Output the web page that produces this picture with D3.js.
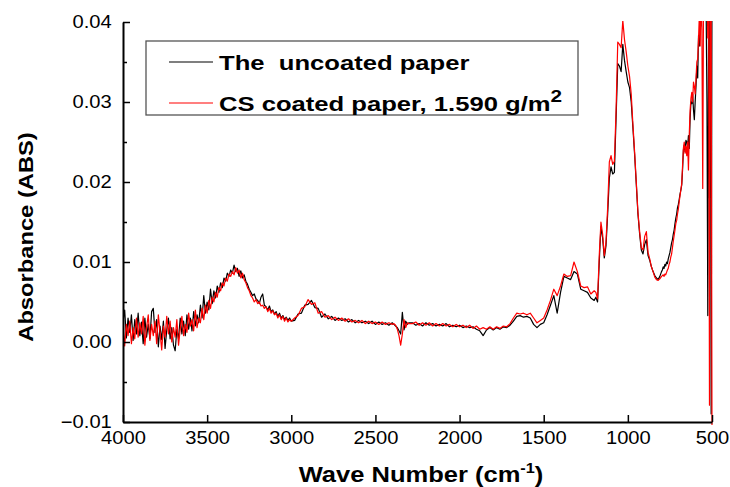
<!DOCTYPE html>
<html>
<head>
<meta charset="utf-8">
<script src="https://cdn.jsdelivr.net/npm/d3@7"></script>
<style>
body { margin: 0; background: #fff; }
svg { display: block; font-family: "Liberation Sans", Arial, sans-serif; }
</style>
</head>
<body>
<svg id="chart" width="730" height="487"></svg>
<script>
// wavenumber grid (cm-1), finer where the spectrum is busy
var wn = [].concat(
	d3.range(4000, 2999, -10),
	d3.range(2980, 2399, -20),
	d3.range(2390, 2299, -10),
	d3.range(2280, 1199, -20),
	d3.range(1190, 799, -10),
	d3.range(795, 499, -5)
);

// absorbance, the uncoated paper (black)
var uncoated = [
	// 4000 - 3000
	0.0025,0.0040,0.0005,0.0030,0.0012,0.0034,0.0002,0.0028,0.0010,0.0036,
	0.0008,0.0025,-0.0002,0.0030,0.0006,0.0022,0.0004,0.0038,0.0042,0.0012,
	0.0028,-0.0006,0.0020,0.0003,0.0026,-0.0008,0.0015,0.0030,0.0004,0.0018,
	-0.0004,-0.0011,0.0016,0.0004,0.0030,0.0010,0.0026,0.0008,0.0034,0.0016,
	0.0030,0.0014,0.0038,0.0020,0.0034,0.0024,0.0046,0.0030,0.0058,0.0036,
	0.0050,0.0040,0.0066,0.0048,0.0064,0.0055,0.0070,0.0062,0.0074,0.0068,
	0.0080,0.0076,0.0086,0.0082,0.0090,0.0086,0.0096,0.0088,0.0092,0.0082,
	0.0089,0.0080,0.0084,0.0076,0.0072,0.0066,0.0062,0.0058,0.0060,0.0054,
	0.0052,0.0048,0.0056,0.0060,0.0046,0.0044,0.0040,0.0045,0.0038,0.0040,
	0.0035,0.0038,0.0032,0.0036,0.0030,0.0033,0.0028,0.0031,0.0027,0.0030,
	0.0026,
	// 2980 - 2400
	0.0027,0.0035,0.0036,0.0046,0.0047,0.0052,0.0043,0.0042,0.0031,0.0035,
	0.0029,0.0032,0.0027,0.0030,0.0027,0.0029,0.0025,0.0028,0.0024,0.0027,
	0.0024,0.0026,0.0023,0.0026,0.0022,0.0025,0.0022,0.0024,0.0021,0.0024,
	// 2390 - 2300
	0.0022,0.0020,0.0018,0.0014,0.0010,0.0037,0.0015,0.0026,0.0022,0.0024,
	// 2280 - 1200
	0.0024,0.0021,0.0023,0.0020,0.0024,0.0021,0.0023,0.0020,0.0022,0.0020,
	0.0023,0.0019,0.0021,0.0019,0.0021,0.0018,0.0020,0.0018,0.0019,0.0016,
	0.0014,0.0008,0.0015,0.0018,0.0015,0.0018,0.0016,0.0019,0.0018,0.0021,
	0.0026,0.0032,0.0033,0.0031,0.0032,0.0030,0.0022,0.0018,0.0022,0.0024,
	0.0034,0.0046,0.0058,0.0036,0.0062,0.0082,0.0080,0.0078,0.0088,0.0085,
	0.0066,0.0064,0.0062,0.0055,0.0052,
	// 1190 - 800
	0.0056,0.0050,0.0100,0.0144,0.0130,0.0105,0.0120,0.0160,0.0205,0.0219,
	0.0210,0.0212,0.0280,0.0348,0.0345,0.0338,0.0372,0.0352,0.0338,0.0325,
	0.0318,0.0300,0.0268,0.0235,0.0198,0.0160,0.0135,0.0115,0.0110,0.0122,
	0.0128,0.0108,0.0102,0.0094,0.0088,0.0083,0.0080,0.0078,0.0082,0.0088,
	// 795 - 500
	0.0090,0.0094,0.0092,0.0097,0.0095,0.0100,0.0098,0.0104,0.0108,0.0112,
	0.0118,0.0124,0.0128,0.0135,0.0140,0.0148,0.0155,0.0160,0.0168,0.0172,
	0.0178,0.0185,0.0190,0.0196,0.0215,0.0240,0.0246,0.0238,0.0252,0.0250,
	0.0244,0.0258,0.0242,0.0280,0.0300,0.0298,0.0310,0.0290,0.0278,0.0300,
	0.0320,0.0345,0.0330,0.0383,0.0370,0.0420,0.0395,0.0440,0.0410,0.0450,
	0.0430,0.0460,0.0420,0.0300,0.0033,0.0450,0.0180,0.0460,-0.0090,0.0450
];

// absorbance, CS coated paper 1.590 g/m2 (red)
var coated = [
	// 4000 - 3000
	0.0020,-0.0005,0.0022,0.0008,0.0026,-0.0002,0.0018,0.0004,0.0030,0.0006,
	0.0024,0.0010,0.0032,-0.0004,0.0018,0.0034,0.0002,0.0022,0.0008,0.0026,
	-0.0002,0.0034,0.0012,-0.0010,0.0020,0.0006,0.0032,0.0010,0.0026,0.0000,
	0.0018,0.0006,0.0028,-0.0004,0.0016,0.0032,0.0008,0.0022,0.0012,0.0036,
	0.0020,0.0028,0.0014,0.0040,0.0018,0.0030,0.0024,0.0042,0.0028,0.0046,
	0.0036,0.0052,0.0042,0.0056,0.0050,0.0062,0.0056,0.0068,0.0064,0.0074,
	0.0070,0.0080,0.0076,0.0085,0.0082,0.0088,0.0084,0.0093,0.0086,0.0090,
	0.0080,0.0086,0.0078,0.0074,0.0068,0.0064,0.0058,0.0055,0.0050,0.0053,
	0.0048,0.0050,0.0045,0.0046,0.0042,0.0044,0.0038,0.0042,0.0036,0.0039,
	0.0034,0.0036,0.0030,0.0034,0.0028,0.0032,0.0026,0.0030,0.0025,0.0028,
	0.0026,
	// 2980 - 2400
	0.0030,0.0033,0.0042,0.0044,0.0053,0.0047,0.0049,0.0036,0.0038,0.0031,
	0.0033,0.0028,0.0031,0.0027,0.0030,0.0026,0.0029,0.0025,0.0027,0.0024,
	0.0027,0.0023,0.0026,0.0023,0.0025,0.0022,0.0025,0.0022,0.0024,0.0022,
	// 2390 - 2300
	0.0023,0.0021,0.0016,0.0008,-0.0004,0.0010,0.0028,0.0018,0.0024,0.0023,
	// 2280 - 1200
	0.0023,0.0025,0.0021,0.0024,0.0021,0.0024,0.0020,0.0023,0.0020,0.0023,
	0.0020,0.0022,0.0019,0.0022,0.0019,0.0021,0.0018,0.0021,0.0017,0.0020,
	0.0016,0.0018,0.0016,0.0019,0.0016,0.0019,0.0017,0.0020,0.0019,0.0023,
	0.0030,0.0036,0.0035,0.0036,0.0034,0.0036,0.0030,0.0024,0.0027,0.0030,
	0.0040,0.0052,0.0066,0.0058,0.0070,0.0085,0.0082,0.0083,0.0100,0.0088,
	0.0070,0.0068,0.0069,0.0060,0.0064,
	// 1190 - 800
	0.0062,0.0054,0.0108,0.0150,0.0135,0.0108,0.0125,0.0168,0.0225,0.0233,
	0.0222,0.0226,0.0290,0.0375,0.0372,0.0368,0.0402,0.0378,0.0363,0.0345,
	0.0332,0.0310,0.0272,0.0238,0.0200,0.0162,0.0138,0.0118,0.0115,0.0132,
	0.0138,0.0112,0.0104,0.0094,0.0088,0.0081,0.0078,0.0077,0.0079,0.0082,
	// 795 - 500
	0.0083,0.0084,0.0082,0.0085,0.0084,0.0087,0.0090,0.0092,0.0097,0.0100,
	0.0106,0.0110,0.0118,0.0126,0.0133,0.0140,0.0148,0.0152,0.0160,0.0166,
	0.0175,0.0183,0.0190,0.0198,0.0220,0.0242,0.0250,0.0236,0.0245,0.0233,
	0.0250,0.0215,0.0260,0.0290,0.0305,0.0312,0.0300,0.0325,0.0320,0.0310,
	0.0330,0.0350,0.0354,0.0379,0.0410,0.0370,0.0440,0.0390,0.0192,0.0450,
	0.0420,0.0460,0.0440,0.0460,0.0380,0.0450,-0.0079,0.0470,0.0420,-0.0110
];

var xTicks = [4000, 3500, 3000, 2500, 2000, 1500, 1000, 500];
var yTicks = [-0.01, 0.00, 0.01, 0.02, 0.03, 0.04];
var yMinor = [-0.005, 0.005, 0.015, 0.025, 0.035];
var legendLabels = ["The  uncoated paper", "CS coated paper, 1.590 g/m"];
var colors = ["#000000", "#ff0000"];

var plotL = 123, plotR = 712, plotT = 22, plotB = 422;
var svg = d3.select("#chart");

var x = d3.scaleLinear().domain([4000, 500]).range([plotL, plotR]);
var y = d3.scaleLinear().domain([-0.01, 0.04]).range([plotB, plotT]);

svg.append("clipPath").attr("id", "plotclip")
	.append("rect")
	.attr("x", plotL).attr("y", plotT - 1)
	.attr("width", plotR - plotL + 1).attr("height", plotB - plotT + 4);

var line = d3.line()
	.x(function(d) { return x(d[0]); })
	.y(function(d) { return y(d[1]); });

var series = [uncoated, coated];
svg.append("g").attr("clip-path", "url(#plotclip)")
	.selectAll("path").data(series).enter()
	.append("path")
	.attr("d", function(s) { return line(d3.zip(wn, s)); })
	.attr("fill", "none")
	.attr("stroke", function(d, i) { return colors[i]; })
	.attr("stroke-width", 1.2)
	.attr("stroke-linejoin", "round");

// axes, ticks point inward
svg.append("g").attr("transform", "translate(" + plotL + ",0)")
	.call(d3.axisLeft(y).tickValues(yTicks).tickFormat(d3.format(".2f"))
		.tickSize(-7).tickSizeOuter(0).tickPadding(10));
svg.append("g").attr("transform", "translate(" + plotL + ",0)")
	.call(d3.axisLeft(y).tickValues(yMinor).tickFormat("").tickSize(-4).tickSizeOuter(0))
	.select(".domain").remove();
svg.append("g").attr("transform", "translate(0," + plotB + ")")
	.call(d3.axisBottom(x).tickValues(xTicks).tickFormat(d3.format("d"))
		.tickSize(-7).tickSizeOuter(0).tickPadding(9));

svg.selectAll(".domain").attr("stroke", "#000").attr("stroke-width", 2);
svg.selectAll(".tick line").attr("stroke", "#000").attr("stroke-width", 1.5);
svg.selectAll(".tick text")
	.attr("font-family", "Liberation Sans, Arial, sans-serif")
	.attr("font-size", 18).attr("fill", "#000")
	.attr("transform", "scale(1.12,1)");

// axis titles
svg.append("text")
	.attr("transform", "translate(33,237) rotate(-90) scale(1.13,1)")
	.attr("text-anchor", "middle")
	.attr("font-size", 21).attr("font-weight", "bold")
	.text("Absorbance (ABS)");

var xt = svg.append("text")
	.attr("transform", "translate(421,482) scale(1.16,1)")
	.attr("text-anchor", "middle")
	.attr("font-size", 22).attr("font-weight", "bold");
xt.append("tspan").text("Wave Number (cm");
xt.append("tspan").attr("font-size", 14).attr("dy", -9).text("-1");
xt.append("tspan").attr("dy", 9).text(")");

// legend
var lg = svg.append("g");
lg.append("rect")
	.attr("x", 146).attr("y", 41).attr("width", 432).attr("height", 74)
	.attr("fill", "#fff").attr("stroke", "#555").attr("stroke-width", 1.3);
legendLabels.forEach(function(lab, i) {
	var ly = 62 + i * 41;
	lg.append("line")
		.attr("x1", 169).attr("x2", 213).attr("y1", ly).attr("y2", ly)
		.attr("stroke", colors[i]).attr("stroke-width", 1.2);
	var t = lg.append("text")
		.attr("transform", "translate(219," + (ly + 8) + ") scale(1.22,1)")
		.attr("font-size", 21).attr("font-weight", "bold")
		.style("white-space", "pre");
	t.append("tspan").text(lab);
	if (i == 1) {
		t.append("tspan").attr("font-size", 17).attr("dy", -9).text("2");
	}
});
</script>
</body>
</html>
